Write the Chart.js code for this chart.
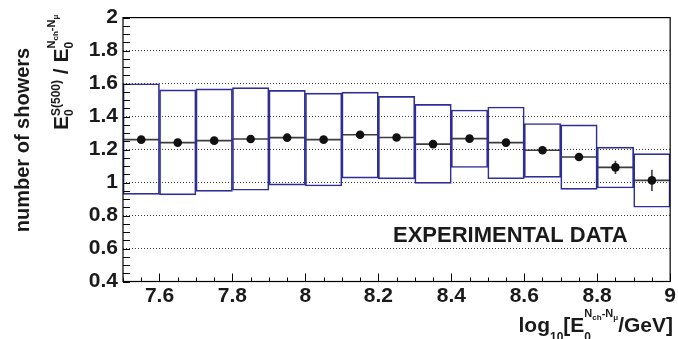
<!DOCTYPE html>
<html>
<head>
<meta charset="utf-8">
<script src="https://cdn.jsdelivr.net/npm/chart.js@4.4.1/dist/chart.umd.min.js"></script>
<style>
  html, body { margin: 0; padding: 0; background: #fff; }
  #ratioChart { display: block; }
</style>
</head>
<body>
<canvas id="ratioChart" width="678" height="339"></canvas>
<script>
// bins in log10(E/GeV)
const binEdges = [7.5, 7.6, 7.7, 7.8, 7.9, 8.0, 8.1, 8.2, 8.3, 8.4, 8.5, 8.6, 8.7, 8.8, 8.9, 9.0];

// mean ratio per bin and its error
const meanRatio = [1.260, 1.242, 1.254, 1.264, 1.272, 1.260, 1.290, 1.273, 1.233, 1.266, 1.242, 1.196, 1.155, 1.092, 1.013];
const meanError = [0.008, 0.008, 0.008, 0.008, 0.008, 0.008, 0.008, 0.008, 0.010, 0.010, 0.015, 0.018, 0.024, 0.040, 0.065];

// spread (rms) boxes
const boxLow  = [0.928, 0.925, 0.946, 0.953, 0.984, 0.979, 1.027, 1.022, 0.995, 1.091, 1.023, 1.031, 0.959, 0.967, 0.850];
const boxHigh = [1.599, 1.562, 1.568, 1.575, 1.559, 1.542, 1.548, 1.522, 1.474, 1.440, 1.458, 1.358, 1.350, 1.215, 1.175];

// tick labels
const xTickValues = [7.6, 7.8, 8.0, 8.2, 8.4, 8.6, 8.8, 9.0];
const yTickValues = [0.4, 0.6, 0.8, 1.0, 1.2, 1.4, 1.6, 1.8, 2.0];

const binCenters = binEdges.slice(0, -1).map((e, i) => (e + binEdges[i + 1]) / 2);

const FONT = '"Liberation Sans", Arial, Helvetica, sans-serif';
const fmt = (v) => String(Math.round(v * 10) / 10);

// draw (or just measure) a run of text pieces with sub/superscripts
function textRuns(ctx, runs, x, y, draw) {
    for (const r of runs) {
        if (r.stack) {
            let w = 0;
            for (const part of r.stack) {
                w = Math.max(w, textRuns(ctx, part, x, y, draw) - x);
            }
            x += w;
        } else {
            ctx.font = 'bold ' + r.size + 'px ' + FONT;
            if (draw) ctx.fillText(r.t, x, y + (r.dy || 0));
            x += ctx.measureText(r.t).width;
        }
    }
    return x;
}

const yTitleRuns = [
    { t: 'E', size: 21 },
    { stack: [[{ t: '0', size: 12, dy: 5 }], [{ t: 'S(500)', size: 12, dy: -8 }]] },
    { t: ' / ', size: 21 },
    { t: 'E', size: 21 },
    { stack: [[{ t: '0', size: 12, dy: 5 }],
              [{ t: 'N', size: 11, dy: -13 }, { t: 'ch', size: 8, dy: -10 },
               { t: '-N', size: 11, dy: -13 }, { t: 'μ', size: 8, dy: -10 }]] }
];

const xTitleRuns = [
    { t: 'log', size: 21 },
    { t: '10', size: 12, dy: 9 },
    { t: '[E', size: 21 },
    { stack: [[{ t: '0', size: 12, dy: 9 }],
              [{ t: 'N', size: 11, dy: -15 }, { t: 'ch', size: 8, dy: -12 },
               { t: '-N', size: 11, dy: -15 }, { t: 'μ', size: 8, dy: -12 }]] },
    { t: '/GeV]', size: 21 }
];

// horizontal bin-width lines and vertical error bars under the markers
const errorBars = {
    id: 'errorBars',
    beforeDatasetDraw(chart, args) {
        if (args.index !== 1) return;
        const { ctx, scales: { x, y } } = chart;
        ctx.save();
        ctx.strokeStyle = '#3c3c3c';
        ctx.lineWidth = 1.6;
        meanRatio.forEach((v, i) => {
            const py = y.getPixelForValue(v);
            ctx.beginPath();
            ctx.moveTo(x.getPixelForValue(binEdges[i]), py);
            ctx.lineTo(x.getPixelForValue(binEdges[i + 1]), py);
            ctx.stroke();
            const px = x.getPixelForValue(binCenters[i]);
            ctx.beginPath();
            ctx.moveTo(px, y.getPixelForValue(v - meanError[i]));
            ctx.lineTo(px, y.getPixelForValue(v + meanError[i]));
            ctx.stroke();
        });
        ctx.restore();
    }
};

// frame, inner tick marks, axis titles and the label
const decorations = {
    id: 'decorations',
    afterDraw(chart) {
        const { ctx, chartArea: a, scales: { x, y } } = chart;
        ctx.save();
        ctx.strokeStyle = '#000';
        ctx.lineWidth = 1.2;
        ctx.strokeRect(a.left, a.top, a.right - a.left, a.bottom - a.top);

        ctx.lineWidth = 1;
        ctx.beginPath();
        for (let v = 0.4; v <= 2.0001; v += 0.05) {
            const py = Math.round(y.getPixelForValue(v)) + 0.5;
            ctx.moveTo(a.left, py);
            ctx.lineTo(a.left + 7, py);
        }
        for (let v = 7.5; v <= 9.0001; v += 0.05) {
            const px = Math.round(x.getPixelForValue(v)) + 0.5;
            const major = Math.abs(v * 5 - Math.round(v * 5)) < 1e-6;
            ctx.moveTo(px, a.bottom);
            ctx.lineTo(px, a.bottom - (major ? 8 : 4));
        }
        ctx.stroke();

        ctx.fillStyle = '#1a1a1a';
        ctx.textBaseline = 'alphabetic';
        ctx.textAlign = 'left';

        ctx.font = 'bold 22px ' + FONT;
        ctx.fillText('EXPERIMENTAL DATA', 393, 242);

        const w = textRuns(ctx, xTitleRuns, 0, 0, false);
        textRuns(ctx, xTitleRuns, 673 - w, 332, true);

        ctx.save();
        ctx.translate(68, 130);
        ctx.rotate(-Math.PI / 2);
        textRuns(ctx, yTitleRuns, 0, 0, true);
        ctx.restore();

        ctx.save();
        ctx.translate(29, 140);
        ctx.rotate(-Math.PI / 2);
        ctx.textAlign = 'center';
        ctx.font = 'bold 20px ' + FONT;
        ctx.fillText('number of showers', 0, 0);
        ctx.restore();

        ctx.restore();
    }
};

const ctx = document.getElementById('ratioChart').getContext('2d');

const ratioChart = new Chart(ctx, {
    type: 'bar',
    data: {
        datasets: [{
            type: 'bar',
            label: 'rms',
            data: binCenters.map((c, i) => ({ x: c, y: [boxLow[i], boxHigh[i]] })),
            backgroundColor: 'rgba(0,0,0,0)',
            borderColor: '#2e2e96',
            borderWidth: 1,
            borderSkipped: false,
            barPercentage: 1,
            categoryPercentage: 1,
            grouped: false
        },
        {
            type: 'line',
            label: 'mean',
            data: binCenters.map((c, i) => ({ x: c, y: meanRatio[i] })),
            showLine: false,
            pointRadius: 4.3,
            pointBackgroundColor: '#111',
            pointBorderColor: '#111',
            pointBorderWidth: 0
        }]
    },
    options: {
        responsive: false,
        devicePixelRatio: 1,
        animation: false,
        layout: {
            padding: { top: 14, right: 5, left: 0, bottom: 0 },
            autoPadding: false
        },
        plugins: {
            legend: { display: false },
            tooltip: { enabled: false }
        },
        scales: {
            x: {
                type: 'linear',
                min: 7.5,
                max: 9.0,
                offset: false,
                afterBuildTicks: (scale) => { scale.ticks = xTickValues.map(value => ({ value })); },
                afterFit: (scale) => { scale.height = 57.5; },
                grid: { display: false, offset: false, drawTicks: false },
                border: { display: false },
                ticks: {
                    padding: 2,
                    maxRotation: 0,
                    autoSkip: false,
                    color: '#1a1a1a',
                    font: { family: FONT, size: 21, weight: 'bold' },
                    callback: (v) => fmt(v)
                }
            },
            y: {
                min: 0.4,
                max: 2.0,
                afterBuildTicks: (scale) => { scale.ticks = yTickValues.map(value => ({ value })); },
                afterFit: (scale) => { scale.width = 123; },
                grid: { color: '#3a3a3a', lineWidth: 1, drawTicks: false },
                border: { display: false, dash: [1, 2] },
                ticks: {
                    padding: 5,
                    autoSkip: false,
                    color: '#1a1a1a',
                    font: { family: FONT, size: 21, weight: 'bold' },
                    callback: (v) => fmt(v)
                }
            }
        }
    },
    plugins: [errorBars, decorations]
});
</script>
</body>
</html>
